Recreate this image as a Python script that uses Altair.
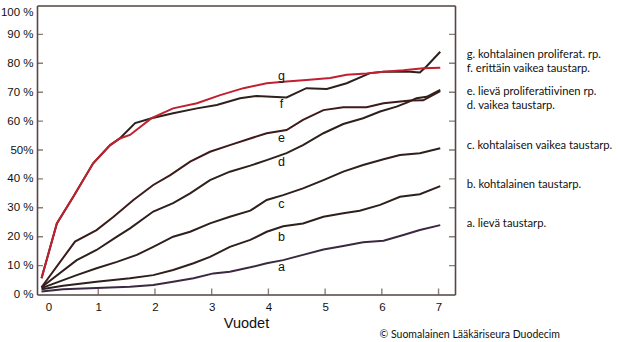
import altair as alt
import pandas as pd

# ---- data (years vs. %) ----
a_x = [0, 0.38, 1.56, 1.97, 2.32, 2.68, 3.03, 3.32, 3.68, 3.97, 4.26, 4.61, 4.97, 5.32, 5.67, 6.03, 6.38, 6.67, 7.03]
a_y = [1.0, 1.8, 2.7, 3.3, 4.4, 5.6, 7.3, 7.9, 9.4, 10.8, 11.9, 13.7, 15.6, 16.8, 18.1, 18.6, 20.6, 22.3, 24.0]
b_x = [0, 0.38, 0.97, 1.56, 1.97, 2.32, 2.68, 2.97, 3.32, 3.68, 3.97, 4.26, 4.61, 4.97, 5.32, 5.61, 5.97, 6.32, 6.67, 7.03]
b_y = [1.8, 3.0, 4.4, 5.6, 6.7, 8.5, 10.8, 13.0, 16.5, 18.9, 21.7, 23.6, 24.6, 26.9, 28.1, 29.0, 31.0, 33.8, 34.7, 37.5]
c_x = [0, 0.62, 0.97, 1.33, 1.68, 1.97, 2.32, 2.62, 2.97, 3.32, 3.68, 3.97, 4.26, 4.61, 4.97, 5.32, 5.67, 6.03, 6.32, 6.67, 7.03]
c_y = [2.2, 6.7, 9.1, 11.3, 13.7, 16.5, 20.0, 21.7, 24.6, 26.9, 29.0, 32.7, 34.4, 36.7, 39.6, 42.5, 44.8, 46.8, 48.3, 48.9, 50.6]
d_x = [0, 0.62, 0.97, 1.33, 1.56, 1.97, 2.32, 2.62, 2.97, 3.32, 3.68, 3.97, 4.32, 4.61, 4.97, 5.32, 5.67, 5.97, 6.26, 6.44, 6.61, 6.79, 7.03]
d_y = [2.5, 11.9, 15.4, 20.0, 22.9, 28.7, 31.6, 35.0, 39.6, 42.5, 44.6, 46.5, 48.9, 51.7, 55.8, 59.0, 61.0, 63.3, 65.0, 66.4, 67.9, 68.4, 70.8]
e_x = [0, 0.59, 0.97, 1.27, 1.62, 1.97, 2.27, 2.62, 2.97, 3.32, 3.68, 3.97, 4.32, 4.61, 4.97, 5.32, 5.73, 6.03, 6.50, 6.73, 7.03]
e_y = [2.5, 18.3, 22.3, 26.9, 32.7, 37.9, 41.3, 46.0, 49.4, 51.7, 54.0, 55.8, 56.9, 60.4, 63.8, 64.8, 64.8, 66.2, 67.1, 67.2, 70.4]
f_x = [0, 0.27, 0.56, 0.91, 1.21, 1.38, 1.65, 1.94, 2.32, 2.74, 3.09, 3.50, 3.79, 4.32, 4.67, 5.03, 5.38, 5.79, 6.03, 6.50, 6.67, 6.79, 7.03]
f_y = [5.6, 24.6, 33.8, 45.4, 51.7, 54.0, 59.3, 61.0, 62.7, 64.4, 65.6, 67.9, 68.7, 68.2, 71.4, 71.1, 73.1, 76.6, 77.1, 77.1, 76.8, 79.0, 84.0]
g_x = [0, 0.27, 0.56, 0.91, 1.21, 1.38, 1.56, 1.94, 2.32, 2.74, 3.15, 3.56, 3.97, 4.32, 4.67, 5.09, 5.38, 5.73, 6.03, 6.38, 6.73, 7.03]
g_y = [5.6, 24.6, 33.8, 45.4, 51.7, 54.0, 55.2, 61.0, 64.4, 66.2, 69.0, 71.4, 73.1, 73.7, 74.2, 74.9, 76.0, 76.5, 77.1, 77.6, 78.3, 78.5]

series_names = ["a", "b", "c", "d", "e", "f", "g"]
series_colors = ["#3b2940", "#2e201c", "#2e201c", "#2e201c", "#3e1b1b", "#2e201c", "#c0202f"]

inline_labels = ["g", "f", "e", "d", "c", "b", "a"]
inline_x = [4.23, 4.23, 4.23, 4.23, 4.23, 4.23, 4.23]
inline_y = [75.6, 65.9, 54.3, 45.8, 31.2, 19.8, 9.6]

legend_text = [
    "g. kohtalainen proliferat. rp.",
    "f. erittäin vaikea taustarp.",
    "e. lievä proliferatiivinen rp.",
    "d. vaikea taustarp.",
    "c. kohtalaisen vaikea taustarp.",
    "b. kohtalainen taustarp.",
    "a. lievä taustarp.",
]
legend_x = [7.495] * 7
legend_y = [82.9, 78.0, 70.1, 65.3, 51.4, 37.9, 24.4]

x_ticks = [1, 2, 3, 4, 5, 6, 7]
y_ticks = [10, 20, 30, 40, 50, 60, 70, 80, 90]
x_domain = [-0.08, 7.29]

copyright_text = "© Suomalainen Lääkäriseura Duodecim"

# ---- tables ----
rows = []
for name, xs, ys in [("a", a_x, a_y), ("b", b_x, b_y), ("c", c_x, c_y), ("d", d_x, d_y),
                     ("e", e_x, e_y), ("f", f_x, f_y), ("g", g_x, g_y)]:
    for i, (xv, yv) in enumerate(zip(xs, ys)):
        rows.append({"series": name, "x": xv, "y": yv, "order": i})
df = pd.DataFrame(rows)
df_dark = df[df["series"].isin(["a", "b", "c", "d", "e", "f"])]
df_red = df[df["series"].isin(["g"])]

inline_df = pd.DataFrame({"t": inline_labels, "x": inline_x, "y": inline_y})
legend_df = pd.DataFrame({"t": legend_text, "x": legend_x, "y": legend_y})
xt_df = pd.DataFrame({"x": x_ticks, "y": [0] * len(x_ticks)})
yt_df = pd.DataFrame({"y": y_ticks})

FRAME = "#574744"

xscale = alt.Scale(domain=x_domain, nice=False, zero=False)
yscale = alt.Scale(domain=[0, 100], nice=False)
color = alt.Color("series:N", scale=alt.Scale(domain=series_names, range=series_colors), legend=None)

x_axis = alt.Axis(
    values=list(range(0, 8)), format="d", ticks=False, domain=True, domainColor=FRAME, domainWidth=1.6,
    grid=False, labelOverlap=False,
    labelFont="Liberation Sans", labelFontSize=11.5, labelColor="#111", labelPadding=7,
    labelFlush=False,
    labelOffset={"condition": {"test": "datum.value == 0", "value": 7}, "value": 0},
    title="Vuodet", titleFont="Liberation Sans", titleFontSize=14.5, titleFontWeight="normal",
    titleColor="#111", titlePadding=3,
)
y_axis = alt.Axis(
    values=list(range(0, 101, 10)), ticks=False, domain=True, domainColor=FRAME, domainWidth=1.6,
    grid=False, labelOverlap=False,
    labelExpr="datum.value == 50 ? '50%' : datum.value + ' %'",
    labelFont="Liberation Sans", labelFontSize=11.5, labelColor="#111", labelPadding=4,
    labelFlush=False,
    labelOffset={"condition": {"test": "datum.value == 100", "value": 7}, "value": 0},
    title=None,
)
x_axis_top = alt.Axis(orient="top", labels=False, ticks=False, domain=True, domainColor=FRAME,
                      domainWidth=1.6, grid=False, title=None)
y_axis_right = alt.Axis(orient="right", labels=False, ticks=False, domain=True, domainColor=FRAME,
                        domainWidth=1.6, grid=False, title=None)


def X(field="x:Q"):
    return alt.X(field, scale=xscale, axis=None)


def Y(field="y:Q"):
    return alt.Y(field, scale=yscale, axis=None)


base_dark = alt.Chart(df_dark).mark_line(strokeWidth=2, clip=True).encode(
    x=alt.X("x:Q", scale=xscale, axis=x_axis),
    y=alt.Y("y:Q", scale=yscale, axis=y_axis),
    color=color,
    detail="series:N",
    order="order:Q",
)
base_red = alt.Chart(df_red).mark_line(strokeWidth=2, clip=True).encode(
    x=alt.X("x:Q", scale=xscale, axis=x_axis_top),
    y=alt.Y("y:Q", scale=yscale, axis=y_axis_right),
    color=color,
    detail="series:N",
    order="order:Q",
)

yticks_left = alt.Chart(yt_df).mark_tick(orient="horizontal", size=12, thickness=1.4, color=FRAME, clip=True).encode(
    x=alt.datum(x_domain[0], type="quantitative", scale=xscale, axis=None), y=Y()
)
yticks_right = alt.Chart(yt_df).mark_tick(orient="horizontal", size=12, thickness=1.4, color=FRAME, clip=True).encode(
    x=alt.datum(x_domain[1], type="quantitative", scale=xscale, axis=None), y=Y()
)
xticks = alt.Chart(xt_df).mark_tick(orient="vertical", size=12, thickness=1.4, color=FRAME, clip=True).encode(
    x=X(), y=Y()
)

inline = alt.Chart(inline_df).mark_text(font="Liberation Sans", fontSize=12.5, color="#111", baseline="middle").encode(
    x=X(), y=Y(), text="t:N"
)
legend = alt.Chart(legend_df).mark_text(font="Lato", fontSize=11.2, color="#111", align="left", baseline="middle").encode(
    x=X(), y=Y(), text="t:N"
)
copyright = alt.Chart(pd.DataFrame({"t": [copyright_text]})).mark_text(
    font="Lato", fontSize=10.5, color="#111", align="right", baseline="middle"
).encode(x=alt.value(523), y=alt.value(329.2), text="t:N")

chart = alt.layer(
    base_dark, base_red, yticks_left, yticks_right, xticks, inline, legend, copyright
).resolve_axis(x="independent", y="independent").properties(
    width=418, height=289,
    autosize=alt.AutoSizeParams(type="none"),
    padding={"left": 37, "top": 5.5, "right": 163, "bottom": 47.5},
).configure_view(stroke=FRAME, strokeWidth=1.6).configure(background="white")

chart.save("out.html", embed_options={"renderer": "svg", "actions": False})
